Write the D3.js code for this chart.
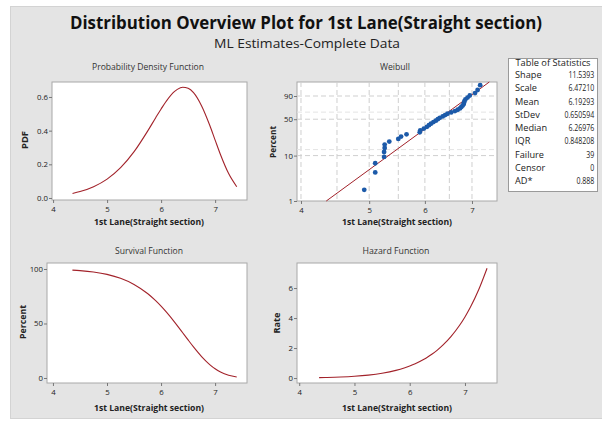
<!DOCTYPE html>
<html>
<head>
<meta charset="utf-8">
<script src="https://cdn.jsdelivr.net/npm/d3@7"></script>
<style>
  body { margin: 0; background: #fff; }
  svg text { font-family: "Open Sans", "Noto Sans", sans-serif; }
</style>
</head>
<body>
<div id="chart"></div>
<script>
/**
 * DATA
 * */
const curveX = [4.36, 4.5, 4.75, 5.0, 5.25, 5.5, 5.75, 5.9, 6.0, 6.1, 6.25, 6.3, 6.4, 6.5, 6.6, 6.75, 6.9, 7.0, 7.1, 7.25, 7.4];
const pdfVals = [0.027, 0.038, 0.067, 0.112, 0.180, 0.275, 0.397, 0.477, 0.529, 0.577, 0.633, 0.645, 0.658, 0.652, 0.626, 0.547, 0.432, 0.344, 0.257, 0.145, 0.067];
const survVals = [98.96, 98.50, 97.22, 95.04, 91.45, 85.82, 77.47, 70.91, 65.88, 60.36, 51.26, 48.06, 41.53, 34.96, 28.55, 19.70, 12.33, 8.44, 5.44, 2.46, 0.92];
const hazVals = [0.028, 0.039, 0.068, 0.118, 0.197, 0.321, 0.512, 0.672, 0.803, 0.955, 1.234, 1.342, 1.584, 1.866, 2.191, 2.777, 3.501, 4.074, 4.731, 5.898, 7.318];

// weibull probability plot points
const obsX = [4.92, 5.10, 5.10, 5.25, 5.25, 5.26, 5.26, 5.34, 5.50, 5.55, 5.65, 5.90, 5.91, 5.98, 6.04, 6.08, 6.12, 6.17, 6.22, 6.26,
  6.30, 6.36, 6.41, 6.46, 6.54, 6.62, 6.68, 6.73, 6.76, 6.79, 6.81, 6.82, 6.83, 6.85, 6.90, 6.95, 7.07, 7.13, 7.19];
const obsPct = [1.78, 4.31, 6.85, 9.39, 11.93, 14.47, 17.01, 19.54, 22.08, 24.62, 27.16, 29.70, 32.23, 34.77, 37.31, 39.85, 42.39, 44.92, 47.46, 50.00,
  52.54, 55.08, 57.61, 60.15, 62.69, 65.23, 67.77, 70.30, 72.84, 75.38, 77.92, 80.46, 83.00, 85.53, 88.07, 90.61, 93.15, 95.69, 98.22];
const fitX = [4.345, 7.408];
const fitPct = [1, 99.14];

const xTicks = [4, 5, 6, 7];
const pdfTicks = [0, 0.2, 0.4, 0.6];
const survTicks = [0, 50, 100];
const hazTicks = [0, 2, 4, 6];
const wbTicks = [1, 10, 50, 90];
const wbGridX = [4, 4.5, 5, 5.5, 6, 6.5, 7];
const wbGridY = [10, 13.4, 50, 63.2, 90];

const statLabels = ["Shape", "Scale", "Mean", "StDev", "Median", "IQR", "Failure", "Censor", "AD*"];
const statValues = ["11.5393", "6.47210", "6.19293", "0.650594", "6.26976", "0.848208", "39", "0", "0.888"];

/**
 * CONSTANTS
 * */
const width = 602, height = 423;
const lineColor = "#a2222a", dotColor = "#1c5aa9";
const xLabel = "1st Lane(Straight section)";

const svg = d3.select("#chart").append("svg")
  .attr("width", width)
  .attr("height", height);

// grey background panel
svg.append("rect")
  .attr("x", 10.5).attr("y", 6.5)
  .attr("width", 592).attr("height", 412)
  .attr("fill", "#e4e4e4").attr("stroke", "#d3d3d3");

svg.append("text")
  .attr("x", 306).attr("y", 29)
  .attr("text-anchor", "middle")
  .attr("font-size", 17.5).attr("font-weight", "bold").attr("fill", "#111")
  .attr("textLength", 472).attr("lengthAdjust", "spacingAndGlyphs")
  .text("Distribution Overview Plot for 1st Lane(Straight section)");

svg.append("text")
  .attr("x", 307).attr("y", 47.5)
  .attr("text-anchor", "middle")
  .attr("font-size", 12.5).attr("fill", "#222")
  .attr("textLength", 186).attr("lengthAdjust", "spacingAndGlyphs")
  .text("ML Estimates-Complete Data");

// draws box + titles, returns group
function frame(p) {
  const g = svg.append("g");
  g.append("rect")
    .attr("x", p.x0).attr("y", p.y0)
    .attr("width", p.x1 - p.x0).attr("height", p.y1 - p.y0)
    .attr("fill", "#fff").attr("stroke", "#a8a8a8");

  g.append("text")
    .attr("x", p.tx).attr("y", p.ty)
    .attr("text-anchor", "middle")
    .attr("font-size", 9.5).attr("fill", "#333")
    .attr("textLength", p.tw).attr("lengthAdjust", "spacingAndGlyphs")
    .text(p.title);

  g.append("text")
    .attr("x", p.lx).attr("y", p.ly)
    .attr("text-anchor", "middle")
    .attr("font-size", 9.5).attr("font-weight", "bold").attr("fill", "#222")
    .attr("textLength", 110).attr("lengthAdjust", "spacingAndGlyphs")
    .text(xLabel);

  g.append("text")
    .attr("transform", `translate(${p.yx},${p.yy}) rotate(-90)`)
    .attr("text-anchor", "middle")
    .attr("dy", "0.35em")
    .attr("font-size", 9.5).attr("font-weight", "bold").attr("fill", "#222")
    .attr("textLength", p.yw).attr("lengthAdjust", "spacingAndGlyphs")
    .text(p.ylabel);
  return g;
}

function styleAxis(a) {
  a.select(".domain").remove();
  a.selectAll("line").attr("stroke", "#777");
  a.selectAll("text").attr("font-size", 7.8).attr("fill", "#222");
}

function axes(g, p, x, y, yTicks, yFmt) {
  const ax = g.append("g")
    .attr("transform", `translate(0,${p.y1})`)
    .call(d3.axisBottom(x).tickValues(xTicks).tickSize(3).tickSizeOuter(0).tickFormat(d3.format("d")));
  const ay = g.append("g")
    .attr("transform", `translate(${p.x0},0)`)
    .call(d3.axisLeft(y).tickValues(yTicks).tickSize(3).tickPadding(1).tickSizeOuter(0).tickFormat(yFmt));
  styleAxis(ax);
  styleAxis(ay);
}

const line = (x, y, ys) => d3.line()
  .x((d, i) => x(curveX[i]))
  .y((d, i) => y(ys[i]))
  .curve(d3.curveMonotoneX)(ys);

// ---------- PDF ----------
const pPdf = { x0: 52, x1: 247, y0: 82, y1: 200, title: "Probability Density Function", tx: 148, ty: 70, tw: 112,
  lx: 149, ly: 225, ylabel: "PDF", yx: 25, yy: 140, yw: 18 };
const gPdf = frame(pPdf);
const xPdf = d3.scaleLinear().domain([3.98, 7.59]).range([pPdf.x0, pPdf.x1]);
const yPdf = d3.scaleLinear().domain([-0.012, 0.689]).range([pPdf.y1, pPdf.y0]);
axes(gPdf, pPdf, xPdf, yPdf, pdfTicks, d3.format(".1f"));
gPdf.append("path").attr("d", line(xPdf, yPdf, pdfVals))
  .attr("fill", "none").attr("stroke", lineColor).attr("stroke-width", 1.1);

// ---------- Weibull ----------
const pWb = { x0: 297, x1: 497, y0: 82, y1: 201, title: "Weibull", tx: 395, ty: 70, tw: 30,
  lx: 397, ly: 225, ylabel: "Percent", yx: 273, yy: 142, yw: 32 };
const gWb = frame(pWb);
const wt = p => Math.log(-Math.log(1 - p / 100));
const xWb = d3.scaleLog().domain([3.948, 7.597]).range([pWb.x0, pWb.x1]);
const tWb = d3.scaleLinear().domain([wt(1), wt(99.14)]).range([pWb.y1, pWb.y0]);
const yWb = p => tWb(wt(p));

gWb.append("g").selectAll("line")
  .data(wbGridX).join("line")
  .attr("x1", d => xWb(d)).attr("x2", d => xWb(d))
  .attr("y1", pWb.y0).attr("y2", pWb.y1)
  .attr("stroke", "#cfcfcf").attr("stroke-dasharray", "5,3");
gWb.append("g").selectAll("line")
  .data(wbGridY).join("line")
  .attr("x1", pWb.x0).attr("x2", pWb.x1)
  .attr("y1", d => yWb(d)).attr("y2", d => yWb(d))
  .attr("stroke", d => (d === 10 || d === 50 || d === 90) ? "#cfcfcf" : "#e4e4e4")
  .attr("stroke-dasharray", "5,3");

const axWb = gWb.append("g")
  .attr("transform", `translate(0,${pWb.y1})`)
  .call(d3.axisBottom(xWb).tickValues(xTicks).tickSize(3).tickSizeOuter(0).tickFormat(d3.format("d")));
const ayWb = gWb.append("g")
  .attr("transform", `translate(${pWb.x0},0)`)
  .call(d3.axisLeft(tWb).tickValues(wbTicks.map(wt)).tickSize(3).tickPadding(1).tickSizeOuter(0)
    .tickFormat((d, i) => wbTicks[i]));
styleAxis(axWb);
styleAxis(ayWb);

gWb.append("path")
  .attr("d", d3.line().x((d, i) => xWb(fitX[i])).y((d, i) => yWb(fitPct[i]))(fitX))
  .attr("fill", "none").attr("stroke", lineColor).attr("stroke-width", 1);

gWb.append("g").selectAll("circle")
  .data(obsX).join("circle")
  .attr("cx", d => xWb(d))
  .attr("cy", (d, i) => yWb(obsPct[i]))
  .attr("r", 2.4)
  .attr("fill", dotColor);

// ---------- Survival ----------
const pSv = { x0: 47, x1: 247, y0: 263, y1: 383, title: "Survival Function", tx: 149, ty: 254, tw: 68,
  lx: 149, ly: 411, ylabel: "Percent", yx: 23, yy: 322, yw: 34 };
const gSv = frame(pSv);
const xSv = d3.scaleLinear().domain([3.89, 7.59]).range([pSv.x0, pSv.x1]);
const ySv = d3.scaleLinear().domain([-4.6, 105.5]).range([pSv.y1, pSv.y0]);
axes(gSv, pSv, xSv, ySv, survTicks, d3.format("d"));
gSv.append("path").attr("d", line(xSv, ySv, survVals))
  .attr("fill", "none").attr("stroke", lineColor).attr("stroke-width", 1.1);

// ---------- Hazard ----------
const pHz = { x0: 297, x1: 497, y0: 263, y1: 383, title: "Hazard Function", tx: 396, ty: 254, tw: 67,
  lx: 397, ly: 411, ylabel: "Rate", yx: 277, yy: 323, yw: 21 };
const gHz = frame(pHz);
const xHz = d3.scaleLinear().domain([3.96, 7.58]).range([pHz.x0, pHz.x1]);
const yHz = d3.scaleLinear().domain([-0.33, 7.67]).range([pHz.y1, pHz.y0]);
axes(gHz, pHz, xHz, yHz, hazTicks, d3.format("d"));
gHz.append("path").attr("d", line(xHz, yHz, hazVals))
  .attr("fill", "none").attr("stroke", lineColor).attr("stroke-width", 1.1);

// ---------- Table of Statistics ----------
const tbl = svg.append("g").attr("transform", "translate(508.5,58.5)");
tbl.append("rect").attr("width", 89).attr("height", 133)
  .attr("fill", "#fff").attr("stroke", "#9a9a9a");
tbl.append("text")
  .attr("x", 44.5).attr("y", 7.5)
  .attr("text-anchor", "middle")
  .attr("font-size", 9.2).attr("fill", "#222")
  .attr("textLength", 75).attr("lengthAdjust", "spacingAndGlyphs")
  .text("Table of Statistics");
const rowY = d3.scalePoint().domain(statLabels).range([16.5, 122.5]);
tbl.selectAll("text.lab")
  .data(statLabels).join("text")
  .attr("class", "lab")
  .attr("x", 6.5).attr("y", d => rowY(d))
  .attr("dy", "0.35em")
  .attr("font-size", 9.2).attr("fill", "#222")
  .text(d => d);
tbl.selectAll("text.val")
  .data(statValues).join("text")
  .attr("class", "val")
  .attr("transform", (d, i) => `translate(85.8,${rowY(statLabels[i])}) scale(0.76,1)`)
  .attr("dy", "0.35em")
  .attr("text-anchor", "end")
  .attr("font-size", 9.2).attr("fill", "#222")
  .text(d => d);
</script>
</body>
</html>
